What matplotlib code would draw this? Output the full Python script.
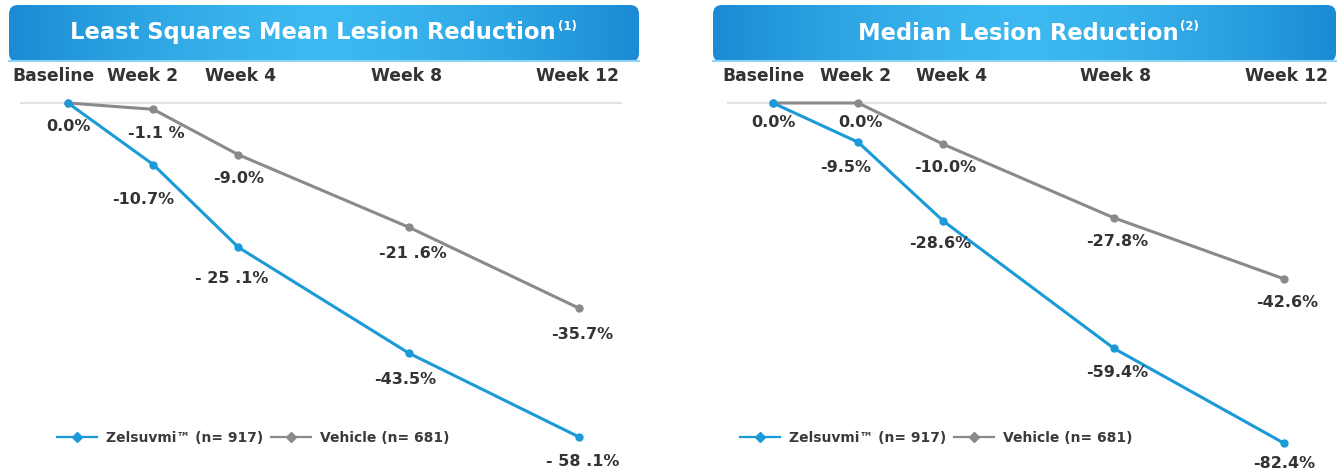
import numpy as np
import matplotlib
matplotlib.use("Agg")
import matplotlib.pyplot as plt
from matplotlib.patches import FancyBboxPatch
from matplotlib.lines import Line2D

plt.rcParams["font.family"] = ["DejaVu Sans"]

weeks = [0, 2, 4, 8, 12]
week_labels = ["Baseline", "Week 2", "Week 4", "Week 8", "Week 12"]

# left panel: least squares mean
ls_zel = [0.0, -10.7, -25.1, -43.5, -58.1]
ls_veh = [0.0, -1.1, -9.0, -21.6, -35.7]
ls_zel_labels = ["0.0%", "-10.7%", "- 25 .1%", "-43.5%", "- 58 .1%"]
ls_veh_labels = ["", "-1.1 %", "-9.0%", "-21 .6%", "-35.7%"]

# right panel: median
md_zel = [0.0, -9.5, -28.6, -59.4, -82.4]
md_veh = [0.0, 0.0, -10.0, -27.8, -42.6]
md_zel_labels = ["0.0%", "-9.5%", "-28.6%", "-59.4%", "-82.4%"]
md_veh_labels = ["", "0.0%", "-10.0%", "-27.8%", "-42.6%"]

titles = ["Least Squares Mean Lesion Reduction", "Median Lesion Reduction"]
title_notes = ["(1)", "(2)"]
legend_labels = ["Zelsuvmi\u2122 (n= 917)", "Vehicle (n= 681)"]

BLUE = "#1b9ad8"
GRAY = "#8a8a8a"
TXT = "#333333"

W, H = 1343, 473
fig = plt.figure(figsize=(W / 100, H / 100), dpi=100)


def px_axes(x0, x1, y0, y1):
    return fig.add_axes([x0 / W, 1 - y1 / H, (x1 - x0) / W, (y1 - y0) / H])


# header boxes drawn on a full-figure overlay
bg = fig.add_axes([0, 0, 1, 1])
bg.set_xlim(0, W)
bg.set_ylim(H, 0)
bg.axis("off")

boxes = [(9, 639), (713, 1336)]
title_cx = [313, 1018]
for (bx0, bx1), title, note, cx in zip(boxes, titles, title_notes, title_cx):
    patch = FancyBboxPatch((bx0, 5), bx1 - bx0, 57,
                           boxstyle="round,pad=0,rounding_size=9",
                           fc="none", ec="none")
    bg.add_patch(patch)
    t = np.linspace(-1, 1, 300)
    grad = 1 - np.abs(t) ** 1.5
    img = bg.imshow(grad[np.newaxis, :], extent=(bx0, bx1, 62, 5),
                    cmap=matplotlib.colors.LinearSegmentedColormap.from_list(
                        "hdr", ["#1a8bd4", "#3cb9f0"]),
                    aspect="auto", zorder=1)
    img.set_clip_path(patch)
    bg.plot([bx0, bx1], [61, 61], color="#8fd3f5", lw=1.5, zorder=2)
    tt = bg.text(cx, 33, title, color="white", fontsize=16.3, fontweight="bold",
                 ha="center", va="center", zorder=3)
    bg.annotate(note, xy=(1, 0.8), xycoords=tt, xytext=(1.5, 0),
                textcoords="offset points", color="white", fontsize=8.5,
                fontweight="bold", ha="left", va="center", zorder=3)
bg.set_xlim(0, W)
bg.set_ylim(H, 0)

# label offsets in pixels (dx right, dy down from the point)
panels = [
    dict(ext=(20, 622), px_per=5.75, zel=ls_zel, veh=ls_veh,
         zl=ls_zel_labels, vl=ls_veh_labels,
         zdx=[0, -10, -7, -4, 3], zdy=[23, 35, 31, 26, 24],
         vdx=[0, 3, 0, 4, 3], vdy=[0, 24, 24, 26, 26],
         tdx=[-15, -11, 2, -2, -2], leg_x=57),
    dict(ext=(727, 1327), px_per=4.13, zel=md_zel, veh=md_veh,
         zl=md_zel_labels, vl=md_veh_labels,
         zdx=[0, -13, -3, 3, 0], zdy=[19, 25, 22, 24, 20],
         vdx=[0, 2, 2, 3, 3], vdy=[0, 19, 23, 24, 24],
         tdx=[-9, -3, 8, 2, 2], leg_x=740),
]

top_px, bot_px, zero_px = 90, 470, 103
for p in panels:
    x0, x1 = p["ext"]
    ax = px_axes(x0, x1, top_px, bot_px)
    base_px = x0 + 48 if x0 < 700 else x0 + 46
    wk_px = 42.6
    ax.set_xlim((x0 - base_px) / wk_px, (x1 - base_px) / wk_px)
    ax.set_ylim(-(bot_px - zero_px) / p["px_per"], (zero_px - top_px) / p["px_per"])
    ax.axis("off")
    ax.axhline(0, color="#e3e3e3", lw=1.5, zorder=0)

    ax.plot(weeks, p["veh"], color=GRAY, lw=2.2, marker="o", ms=5, zorder=2)
    ax.plot(weeks, p["zel"], color=BLUE, lw=2.2, marker="o", ms=5, zorder=3)

    for wk, lab, dx in zip(weeks, week_labels, p["tdx"]):
        ax.annotate(lab, xy=(wk, 1), xycoords=("data", "axes fraction"),
                    xytext=(dx * 0.72, 14 * 0.72), textcoords="offset points",
                    ha="center", va="center", fontsize=12.3, fontweight="bold",
                    color=TXT)

    for vals, labs, dxs, dys in [(p["zel"], p["zl"], p["zdx"], p["zdy"]),
                                 (p["veh"], p["vl"], p["vdx"], p["vdy"])]:
        for wk, v, lab, dx, dy in zip(weeks, vals, labs, dxs, dys):
            if not lab:
                continue
            ax.annotate(lab, xy=(wk, v), xytext=(dx * 0.72, -dy * 0.72),
                        textcoords="offset points", ha="center", va="center",
                        fontsize=11.5, fontweight="bold", color=TXT, zorder=4)

    handles = [Line2D([], [], color=BLUE, lw=1.6, marker="D", ms=5),
               Line2D([], [], color=GRAY, lw=1.6, marker="D", ms=5)]
    leg = fig.legend(handles, legend_labels, loc="center left",
                     bbox_to_anchor=(p["leg_x"] / W, 1 - 438 / H), ncol=2,
                     frameon=False, fontsize=10, handlelength=2.9,
                     handletextpad=0.6, columnspacing=0.6, borderpad=0,
                     borderaxespad=0)
    for txt in leg.get_texts():
        txt.set_color("#3a3a3a")
        txt.set_fontweight("semibold")

fig.savefig("out.png", dpi=100)
